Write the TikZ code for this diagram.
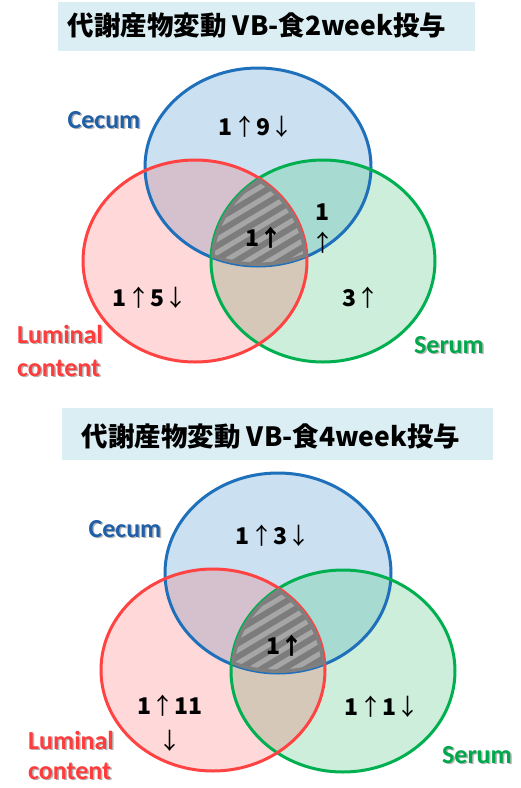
\documentclass[tikz,border=0pt]{standalone}
\usepackage{fontspec}
\setmainfont{Carlito}
\newfontfamily\jp{Noto Sans CJK JP}
\newfontfamily\lab{Carlito}
\newcommand{\bd}[1]{{\bfseries #1}}
\definecolor{bluefill}{HTML}{CBE0F1}
\definecolor{bluestroke}{HTML}{1F70BA}
\definecolor{redfill}{HTML}{FFD9D9}
\definecolor{redstroke}{HTML}{FF4242}
\definecolor{greenfill}{HTML}{CCEEDB}
\definecolor{greenstroke}{HTML}{00B050}
\definecolor{brfill}{HTML}{D5C1CD}
\definecolor{bgfill}{HTML}{A7DAD0}
\definecolor{rgfill}{HTML}{D5C8B8}
\definecolor{titlefill}{HTML}{DAEEF3}
\definecolor{cecumcol}{HTML}{1F5FA8}
\definecolor{lumcol}{HTML}{FF3B3B}
\definecolor{serumcol}{HTML}{00A84C}
\definecolor{hatchdark}{HTML}{7C7C7C}
\definecolor{hatchlight}{HTML}{A6A6A6}
\definecolor{hatchedge}{HTML}{7F7F7F}
\begin{document}
\begin{tikzpicture}[x=1pt,y=-1pt,
  titlebox/.style={fill=titlefill, draw=none},
  titletext/.style={font=\jp\bfseries\fontsize{26.5}{30}\selectfont, text=black, inner sep=0pt},
  num/.style={font=\jp\fontsize{23}{26}\selectfont, inner sep=0pt},
  numbold/.style={font=\jp\bfseries\fontsize{23}{26}\selectfont, inner sep=0pt},
  setlabel/.style={font=\lab\bfseries\fontsize{26}{33}\selectfont, inner sep=0pt},
  shadowlabel/.style={setlabel, text=black!50, opacity=0.6},
  ring/.style={line width=3pt},
  stripe/.style={hatchlight, line width=5pt}]
\useasboundingbox (0,0) rectangle (521,788);
\fill[white] (0,0) rectangle (521,788);

% ================= TOP DIAGRAM =================
\def\BlueT{(258,167) ellipse [x radius=113, y radius=99]}
\def\RedT{(195,261) ellipse [x radius=112, y radius=101]}
\def\GreenT{(323,261) ellipse [x radius=112, y radius=101]}

\fill[titlebox] (58,2) rectangle (475,51);
\node[titletext] (title1) at (257,25) {代謝産物変動 VB-食2week投与};

\fill[bluefill] \BlueT;
\fill[redfill] \RedT;
\fill[greenfill] \GreenT;
\begin{scope}\clip \BlueT; \fill[brfill] \RedT;\end{scope}
\begin{scope}\clip \BlueT; \fill[bgfill] \GreenT;\end{scope}
\begin{scope}\clip \RedT; \fill[rgfill] \GreenT;\end{scope}
\begin{scope}
  \clip \BlueT; \clip \RedT; \clip \GreenT;
  \fill[hatchdark] (150,120) rectangle (360,320);
  \foreach \s in {0,22,...,600} {\draw[stripe] (\s,330) -- ++(250,-150);}
\end{scope}
\draw[ring, bluestroke] \BlueT;
\draw[ring, greenstroke] \GreenT;
\draw[ring, redstroke] \RedT;
\begin{scope}
  \clip \BlueT; \clip \RedT; \clip \GreenT;
  \draw[hatchedge, line width=7pt] \BlueT;
  \draw[hatchedge, line width=7pt] \RedT;
  \draw[hatchedge, line width=7pt] \GreenT;
\end{scope}

\node[num] (t-cecum-only) at (256,127) {\bd{1}↑\bd{9}↓};
\node[num] (t-lum-only) at (150,298) {\bd{1}↑\bd{5}↓};
\node[num] (t-serum-only) at (361,298) {\bd{3}↑};
\node[num] (t-cs-one) at (323,212) {\bd{1}};
\node[num] (t-cs-arrow) at (323,243) {↑};
\node[numbold] (t-all) at (264,238) {1↑};

\node[shadowlabel] (t-cecum-sh) at (105.5,121.5) {Cecum};
\node[setlabel, text=cecumcol] (t-cecum) at (104,120) {Cecum};
\node[shadowlabel, anchor=base west] (t-lum1-sh) at (18.5,344.5) {Luminal};
\node[setlabel, text=lumcol, anchor=base west] (t-lum1) at (17,343) {Luminal};
\node[shadowlabel, anchor=base west] (t-lum2-sh) at (18.5,377.5) {content};
\node[setlabel, text=lumcol, anchor=base west] (t-lum2) at (17,376) {content};
\node[shadowlabel] (t-serum-sh) at (450.5,346.5) {Serum};
\node[setlabel, text=serumcol] (t-serum) at (449,345) {Serum};

% ================= BOTTOM DIAGRAM =================
\def\BlueB{(278,573) ellipse [x radius=113, y radius=100]}
\def\RedB{(213,670) ellipse [x radius=112, y radius=101]}
\def\GreenB{(343,671) ellipse [x radius=112, y radius=101]}

\fill[titlebox] (62,408) rectangle (493,460);
\node[titletext] (title2) at (271,436) {代謝産物変動 VB-食4week投与};

\fill[bluefill] \BlueB;
\fill[redfill] \RedB;
\fill[greenfill] \GreenB;
\begin{scope}\clip \BlueB; \fill[brfill] \RedB;\end{scope}
\begin{scope}\clip \BlueB; \fill[bgfill] \GreenB;\end{scope}
\begin{scope}\clip \RedB; \fill[rgfill] \GreenB;\end{scope}
\begin{scope}
  \clip \BlueB; \clip \RedB; \clip \GreenB;
  \fill[hatchdark] (170,530) rectangle (380,730);
  \foreach \s in {0,22,...,600} {\draw[stripe] (\s,740) -- ++(250,-150);}
\end{scope}
\draw[ring, bluestroke] \BlueB;
\draw[ring, greenstroke] \GreenB;
\draw[ring, redstroke] \RedB;
\begin{scope}
  \clip \BlueB; \clip \RedB; \clip \GreenB;
  \draw[hatchedge, line width=7pt] \BlueB;
  \draw[hatchedge, line width=7pt] \RedB;
  \draw[hatchedge, line width=7pt] \GreenB;
\end{scope}

\node[num] (b-cecum-only) at (273,536) {\bd{1}↑\bd{3}↓};
\node[num] (b-lum-only) at (170,706) {\bd{1}↑\bd{11}};
\node[num] (b-lum-arrow) at (170,741) {↓};
\node[num] (b-serum-only) at (382,707) {\bd{1}↑\bd{1}↓};
\node[numbold] (b-all) at (285,646) {1↑};

\node[shadowlabel] (b-cecum-sh) at (126.5,530.5) {Cecum};
\node[setlabel, text=cecumcol] (b-cecum) at (125,529) {Cecum};
\node[shadowlabel, anchor=base west] (b-lum1-sh) at (29.5,750.5) {Luminal};
\node[setlabel, text=lumcol, anchor=base west] (b-lum1) at (28,749) {Luminal};
\node[shadowlabel, anchor=base west] (b-lum2-sh) at (29.5,780.5) {content};
\node[setlabel, text=lumcol, anchor=base west] (b-lum2) at (28,779) {content};
\node[shadowlabel] (b-serum-sh) at (478.5,756.5) {Serum};
\node[setlabel, text=serumcol] (b-serum) at (477,755) {Serum};
\end{tikzpicture}
\end{document}
